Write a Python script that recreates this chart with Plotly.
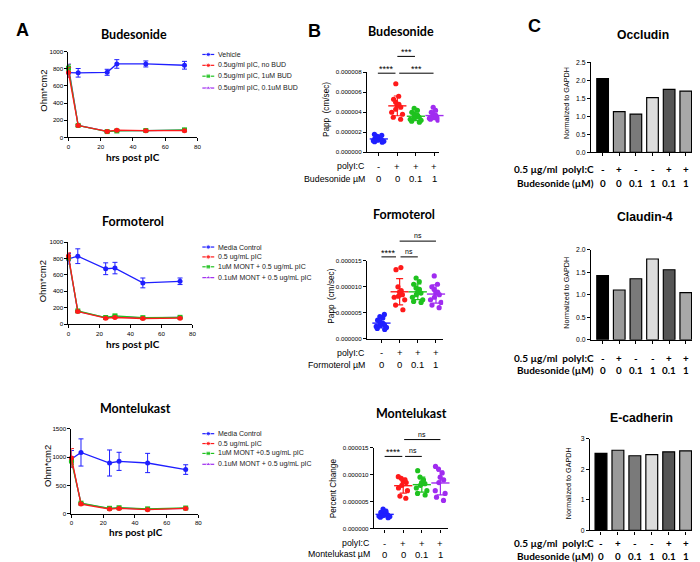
import numpy as np
import plotly.graph_objects as go

W, H = 700, 562

# ---------------- Panel A data (TEER, Ohm*cm2) ----------------
hrs = [0, 6, 24, 30, 48, 72]

a1_names = ["Vehicle", "0.5ug/ml pIC, no BUD", "0.5ug/ml pIC, 1uM BUD", "0.5ug/ml pIC, 0.1uM BUD"]
a1_vehicle = [755, 752, 758, 855, 855, 840]
a1_vehicle_err = [55, 50, 35, 50, 35, 45]
a1_pic = [755, 138, 70, 84, 78, 78]
a1_pic_err = [60, 10, 10, 8, 6, 6]
a1_bud1 = [805, 140, 68, 75, 80, 88]
a1_bud1_err = [40, 8, 8, 8, 6, 8]
a1_bud01 = [825, 140, 70, 78, 78, 85]
a1_bud01_err = [30, 8, 8, 8, 6, 8]

a2_names = ["Media Control", "0.5 ug/mL pIC", "1uM MONT + 0.5 ug/mL pIC", "0.1uM MONT + 0.5 ug/mL pIC"]
a2_ctrl = [795, 828, 675, 683, 502, 522]
a2_ctrl_err = [65, 90, 72, 70, 60, 40]
a2_pic = [830, 153, 72, 80, 68, 72]
a2_pic_err = [40, 10, 8, 8, 6, 6]
a2_mont1 = [810, 160, 80, 100, 78, 82]
a2_mont1_err = [30, 8, 8, 8, 6, 6]
a2_mont01 = [800, 155, 78, 90, 75, 80]
a2_mont01_err = [30, 8, 8, 8, 6, 6]

a3_names = ["Media Control", "0.5 ug/mL pIC", "1uM MONT +0.5 ug/mL pIC", "0.1uM MONT + 0.5 ug/mL pIC"]
a3_ctrl = [965, 1081, 895, 924, 895, 779]
a3_ctrl_err = [150, 240, 230, 160, 170, 85]
a3_pic = [985, 169, 81, 92, 70, 92]
a3_pic_err = [165, 15, 10, 10, 8, 8]
a3_mont1 = [930, 185, 95, 105, 85, 100]
a3_mont1_err = [60, 12, 10, 10, 8, 8]
a3_mont01 = [950, 180, 90, 100, 80, 95]
a3_mont01_err = [60, 12, 10, 10, 8, 8]

# ---------------- Panel B data (Papp / percent change) ----------------
b_cats = [0, 1, 2, 3]
b_polyic = ["-", "+", "+", "+"]
b_dose = ["0", "0", "0.1", "1"]

b1_ctrl = [1.0e-6, 1.1e-6, 1.15e-6, 1.2e-6, 1.25e-6, 1.3e-6, 1.35e-6, 1.4e-6, 1.5e-6, 1.6e-6, 1.7e-6, 1.8e-6, 1.05e-6, 1.2e-6]
b1_pic = [6.85e-6, 5.6e-6, 5.3e-6, 5.0e-6, 4.8e-6, 4.7e-6, 4.5e-6, 4.3e-6, 4.0e-6, 3.8e-6, 3.5e-6, 3.3e-6]
b1_d01 = [4.4e-6, 4.2e-6, 4.0e-6, 3.8e-6, 3.7e-6, 3.6e-6, 3.5e-6, 3.4e-6, 3.3e-6, 3.2e-6, 3.1e-6, 3.0e-6]
b1_d1 = [4.5e-6, 4.2e-6, 4.0e-6, 3.8e-6, 3.7e-6, 3.6e-6, 3.5e-6, 3.5e-6, 3.4e-6, 3.3e-6, 3.3e-6, 3.2e-6]

b2_ctrl = [4.7e-6, 4.3e-6, 4.0e-6, 3.6e-6, 3.3e-6, 3.0e-6, 2.8e-6, 2.7e-6, 2.6e-6, 2.4e-6, 2.2e-6, 2.0e-6, 1.8e-6]
b2_pic = [13.7e-6, 13.3e-6, 10.0e-6, 9.3e-6, 9.0e-6, 8.5e-6, 8.2e-6, 8.0e-6, 7.5e-6, 6.5e-6, 5.6e-6]
b2_d01 = [11.7e-6, 11.0e-6, 10.5e-6, 9.8e-6, 9.5e-6, 9.0e-6, 8.8e-6, 8.5e-6, 8.0e-6, 7.5e-6, 7.2e-6, 7.0e-6]
b2_d1 = [12.1e-6, 10.5e-6, 10.0e-6, 9.5e-6, 9.0e-6, 8.8e-6, 8.5e-6, 8.0e-6, 7.5e-6, 7.0e-6, 6.5e-6, 6.0e-6]

b3_ctrl = [3.6e-6, 3.2e-6, 3.0e-6, 2.8e-6, 2.7e-6, 2.6e-6, 2.5e-6, 2.4e-6, 2.3e-6, 2.2e-6, 2.1e-6, 2.0e-6]
b3_pic = [9.6e-6, 9.3e-6, 9.0e-6, 8.8e-6, 8.5e-6, 8.0e-6, 7.5e-6, 7.0e-6, 6.0e-6, 5.6e-6]
b3_d01 = [10.7e-6, 9.5e-6, 9.0e-6, 8.5e-6, 8.3e-6, 8.0e-6, 7.5e-6, 7.0e-6, 6.5e-6, 6.2e-6]
b3_d1 = [11.5e-6, 11.0e-6, 10.3e-6, 9.5e-6, 9.0e-6, 8.5e-6, 7.0e-6, 6.5e-6, 5.8e-6, 5.2e-6]

# ---------------- Panel C data (normalized to GAPDH) ----------------
c_cats = [0, 1, 2, 3, 4, 5]
c_polyic = ["-", "+", "-", "-", "+", "+"]
c_dose = ["0", "0", "0.1", "1", "0.1", "1"]
occludin = [2.05, 1.13, 1.06, 1.52, 1.75, 1.70]
claudin4 = [1.43, 1.11, 1.36, 1.80, 1.56, 1.05]
ecadherin = [2.52, 2.62, 2.44, 2.48, 2.57, 2.60]

# ---------------- styling ----------------
BLUE, RED, GREEN, PURPLE = "#1f1fff", "#ff1a1a", "#1fc21f", "#a02cf0"
C_BAR = ["#000000", "#9a9a9a", "#7a7a7a", "#dcdcdc", "#555555", "#a8a8a8"]
SANS = "Liberation Sans"
HUM = "Lato"

fig = go.Figure()

boxes = {1: (59, 189, 40, 127), 2: (59, 184, 233, 316), 3: (62, 190, 422, 508),
         4: (360, 433, 61, 142), 5: (360, 437, 252, 331), 6: (367, 442, 441, 523),
         7: (586, 690, 51, 142), 8: (586, 690, 241, 332), 9: (585, 690, 432, 525)}


def ak(i, c):
    return f"{c}axis" if i == 1 else f"{c}axis{i}"


def rf(i, c):
    return c if i == 1 else f"{c}{i}"


base = dict(showline=True, linecolor="black", linewidth=1.1, ticks="outside", ticklen=3,
            tickwidth=1.1, tickcolor="black", showgrid=False, zeroline=False,
            tickfont=dict(size=6.2, family=SANS, color="black"), fixedrange=True)

axes_cfg = {
    1: (dict(range=[0, 80], dtick=20), dict(range=[0, 1000], dtick=200)),
    2: (dict(range=[0, 80], dtick=20), dict(range=[0, 1000], dtick=200)),
    3: (dict(range=[0, 80], dtick=20), dict(range=[0, 1500], dtick=500)),
    4: (dict(range=[-0.64, 3.26], tickvals=b_cats, showticklabels=False), dict(range=[0, 8e-6], dtick=2e-6, tickformat=".6f")),
    5: (dict(range=[-0.8, 3.4], tickvals=b_cats, showticklabels=False), dict(range=[0, 1.5e-5], dtick=5e-6, tickformat=".6f")),
    6: (dict(range=[-0.58, 3.42], tickvals=b_cats, showticklabels=False), dict(range=[0, 1.5e-5], dtick=5e-6, tickformat=".6f")),
    7: (dict(range=[-0.7, 5.5], tickvals=c_cats, showticklabels=False), dict(range=[0, 2.5], dtick=0.5, tickformat=".1f")),
    8: (dict(range=[-0.7, 5.5], tickvals=c_cats, showticklabels=False), dict(range=[0, 2.0], dtick=0.5, tickformat=".1f")),
    9: (dict(range=[-0.65, 5.5], tickvals=c_cats, showticklabels=False), dict(range=[0, 3], dtick=1, tickformat="d")),
}

layout_axes = {}
for i, (x0, x1, y0, y1) in boxes.items():
    xc, yc = axes_cfg[i]
    xa = dict(base, domain=[x0 / W, x1 / W], anchor=rf(i, "y"), **xc)
    ya = dict(base, domain=[1 - y1 / H, 1 - y0 / H], anchor=rf(i, "x"), **yc)
    if i >= 7:
        ya["tickfont"] = dict(size=6.8, family=SANS, color="black")
    layout_axes[ak(i, "x")] = xa
    layout_axes[ak(i, "y")] = ya

# overlay pixel axis for legend keys
layout_axes["xaxis10"] = dict(domain=[0, 1], range=[0, W], visible=False, fixedrange=True, anchor="y10")
layout_axes["yaxis10"] = dict(domain=[0, 1], range=[H, 0], visible=False, fixedrange=True, anchor="x10")

# ---------------- Panel A traces ----------------
def a_panel(i, series):
    for ys, err, col, sym in series:
        fig.add_trace(go.Scatter(
            x=hrs, y=ys, mode="lines+markers", xaxis=rf(i, "x"), yaxis=rf(i, "y"),
            line=dict(color=col, width=1.3), marker=dict(color=col, size=5, symbol=sym),
            error_y=dict(type="data", array=err, color=col, thickness=1, width=2.5),
            cliponaxis=False, showlegend=False))


syms = ["circle", "circle", "square", "triangle-up"]
cols = [BLUE, RED, GREEN, PURPLE]
draw_cols = [BLUE, PURPLE, GREEN, RED]
draw_syms = ["circle", "triangle-up", "square", "circle"]
a_panel(1, list(zip([a1_vehicle, a1_bud01, a1_bud1, a1_pic],
                    [a1_vehicle_err, a1_bud01_err, a1_bud1_err, a1_pic_err], draw_cols, draw_syms)))
a_panel(2, list(zip([a2_ctrl, a2_mont01, a2_mont1, a2_pic],
                    [a2_ctrl_err, a2_mont01_err, a2_mont1_err, a2_pic_err], draw_cols, draw_syms)))
a_panel(3, list(zip([a3_ctrl, a3_mont01, a3_mont1, a3_pic],
                    [a3_ctrl_err, a3_mont01_err, a3_mont1_err, a3_pic_err], draw_cols, draw_syms)))

# legend keys (pixel overlay)
legend_rows = {1: [43, 54, 65, 77], 2: [238, 248, 258, 269], 3: [427, 437, 447, 458]}
legend_names = {1: a1_names, 2: a2_names, 3: a3_names}
for p, rows in legend_rows.items():
    for yy, col, sym in zip(rows, cols, syms):
        fig.add_trace(go.Scatter(x=[194, 200, 206], y=[yy, yy, yy], mode="lines+markers",
                                 xaxis="x10", yaxis="y10", line=dict(color=col, width=1.2),
                                 marker=dict(color=col, size=[0, 4.5, 0], symbol=sym),
                                 showlegend=False, hoverinfo="skip"))

# ---------------- Panel B traces ----------------
def b_panel(i, groups):
    for cat, vals, col in groups:
        fig.add_trace(go.Box(
            x0=cat, y=vals, boxpoints="all", jitter=0.9, pointpos=0, width=0.8,
            fillcolor="rgba(0,0,0,0)", line=dict(width=0, color="rgba(0,0,0,0)"), whiskerwidth=0,
            marker=dict(color=col, size=5.2), xaxis=rf(i, "x"), yaxis=rf(i, "y"), showlegend=False))
        m, sd = float(np.mean(vals)), float(np.std(vals, ddof=1))
        fig.add_trace(go.Scatter(
            x=[cat], y=[m], mode="markers", xaxis=rf(i, "x"), yaxis=rf(i, "y"),
            marker=dict(symbol="line-ew", size=13, color=col, line=dict(color=col, width=1.4)),
            error_y=dict(type="data", array=[sd], color=col, thickness=1.2, width=3.5),
            cliponaxis=False, showlegend=False))


b_panel(4, list(zip(b_cats, [b1_ctrl, b1_pic, b1_d01, b1_d1], cols)))
b_panel(5, list(zip(b_cats, [b2_ctrl, b2_pic, b2_d01, b2_d1], cols)))
b_panel(6, list(zip(b_cats, [b3_ctrl, b3_pic, b3_d01, b3_d1], cols)))

# ---------------- Panel C traces ----------------
for i, vals in zip([7, 8, 9], [occludin, claudin4, ecadherin]):
    fig.add_trace(go.Bar(x=c_cats, y=vals, width=0.7, xaxis=rf(i, "x"), yaxis=rf(i, "y"),
                         marker=dict(color=C_BAR, line=dict(color="black", width=1.2)),
                         showlegend=False))

# ---------------- annotations ----------------
anns = []
shapes = []


def ann(text, px, py, size, family=SANS, bold=False, angle=0, xanchor="center", color="black"):
    t = f"<b>{text}</b>" if bold else text
    anns.append(dict(text=t, x=px / W, y=1 - py / H, xref="paper", yref="paper", showarrow=False,
                     xanchor=xanchor, yanchor="middle", textangle=angle, borderpad=0,
                     font=dict(size=size, family=family, color=color)))


# panel letters
ann("A", 13, 18, 18, bold=True)
ann("B", 307, 19, 18, bold=True)
ann("C", 529, 14, 18, bold=True)

# panel A titles / axis titles / legend text
for (tx, ty, ttl), (xx, xy), (yx, yy) in zip(
        [(125, 23, "Budesonide"), (124, 212, "Formoterol"), (127, 401, "Montelukast")],
        [(124, 147), (124, 336), (127, 527)],
        [(33, 80), (33, 273), (38, 460)]):
    ann(ttl, tx, ty, 12.5, family=HUM, bold=True)
    ann("hrs post pIC", xx, xy, 10, family=HUM, bold=True)
    ann("Ohm*cm2", yx, yy, 9.5, angle=-90)
for p, rows in legend_rows.items():
    for yy, name in zip(rows, legend_names[p]):
        ann(name, 209, yy, 7, xanchor="left", color="#222222")

# panel B titles, axis titles, rows, significance
b_titles = {4: ("Budesonide", 394, 20), 5: ("Formoterol", 397, 205), 6: ("Montelukast", 405, 407)}
b_ytitles = {4: ("Papp  (cm/sec)", 320, 99), 5: ("Papp  (cm/sec)", 324, 288), 6: ("Percent Change", 327, 482)}
b_rows = {4: (156, 169, 359, "Budesonide µM"), 5: (345, 357, 359, "Formoterol µM"), 6: (538, 549, 364, "Montelukast µM")}
b_sig = {4: [(-0.05, 0.9, 0.988, "****"), (1.1, 2.95, 0.988, "***"), (1.0, 1.95, 1.198, "***")],
         5: [(0.0, 0.8, 1.051, "****"), (1.05, 2.0, 1.051, "ns"), (1.0, 3.0, 1.253, "ns")],
         6: [(0.0, 0.95, 0.89, "****"), (1.1, 2.0, 0.89, "ns"), (1.05, 3.0, 1.098, "ns")]}
for i in [4, 5, 6]:
    t, tx, ty = b_titles[i]
    ann(t, tx, ty, 12.5, family=HUM, bold=True)
    t, tx, ty = b_ytitles[i]
    ann(t, tx, ty, 8.2, angle=-90)
    r1, r2, rx, lab = b_rows[i]
    ann("polyI:C", rx, r1, 8.8, xanchor="right")
    ann(lab, rx, r2, 8.8, xanchor="right")
    for c, s1, s2 in zip(b_cats, b_polyic, b_dose):
        for txt, ry in ((s1, r1), (s2, r2)):
            anns.append(dict(text=txt, x=c, y=1 - ry / H, xref=rf(i, "x"), yref="paper", showarrow=False,
                             xanchor="center", yanchor="middle", borderpad=0,
                             font=dict(size=9.5, family=SANS, color="black")))
    for x0, x1, yd, lab in b_sig[i]:
        shapes.append(dict(type="line", xref=rf(i, "x"), yref=f"{rf(i, 'y')} domain", x0=x0, x1=x1, y0=yd, y1=yd,
                           line=dict(color="black", width=1)))
        star = lab.startswith("*")
        anns.append(dict(text=lab, x=(x0 + x1) / 2, y=yd, xref=rf(i, "x"), yref=f"{rf(i, 'y')} domain",
                         showarrow=False, xanchor="center", yanchor="bottom",
                         yshift=-3 if star else 0,
                         font=dict(size=9 if star else 7, family=SANS, color="black")))

# panel C titles, axis titles, rows
c_titles = {7: ("Occludin", 638, 23), 8: ("Claudin-4", 640, 208), 9: ("E-cadherin", 637, 411)}
c_ytitles = {7: (562, 92), 8: (561, 284), 9: (563, 477)}
c_rows = {7: (159, 173), 8: (350, 363), 9: (538, 551)}
for i in [7, 8, 9]:
    t, tx, ty = c_titles[i]
    ann(t, tx, ty, 12.2, bold=True)
    yx, yy = c_ytitles[i]
    ann("Normalized to GAPDH", yx, yy, 7.2, angle=-90)
    r1, r2 = c_rows[i]
    ann("0.5 µg/ml  polyI:C", 590, r1, 10, family=HUM, bold=True, xanchor="right")
    ann("Budesonide (µM)", 590, r2, 10, family=HUM, bold=True, xanchor="right")
    for c, s1, s2 in zip(c_cats, c_polyic, c_dose):
        for txt, ry in ((s1, r1), (s2, r2)):
            anns.append(dict(text=f"<b>{txt}</b>", x=c, y=1 - ry / H, xref=rf(i, "x"), yref="paper",
                             showarrow=False, xanchor="center", yanchor="middle", borderpad=0,
                             font=dict(size=9.8, family=HUM, color="black")))

# right frame line of panel C
shapes.append(dict(type="line", xref="paper", yref="paper", x0=697 / W, x1=697 / W,
                   y0=1 - 548 / H, y1=1 - 24 / H, line=dict(color="#333333", width=1)))

fig.update_layout(width=W, height=H, margin=dict(l=0, r=0, t=0, b=0),
                  paper_bgcolor="white", plot_bgcolor="rgba(0,0,0,0)", showlegend=False,
                  boxmode="overlay", barmode="group",
                  annotations=anns, shapes=shapes, **layout_axes)

fig.write_html("out.html")
